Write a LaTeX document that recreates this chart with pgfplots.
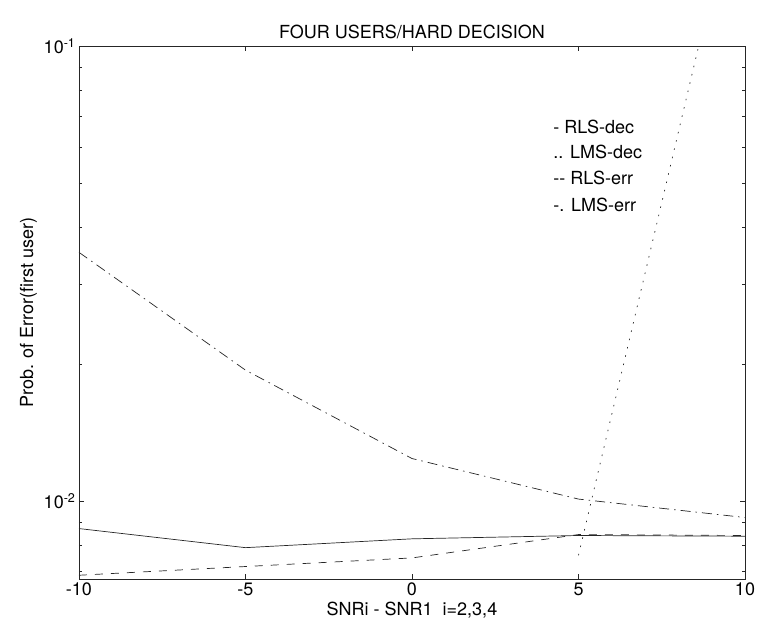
\documentclass[border=0pt]{standalone}
\usepackage{pgfplots}
\pgfplotsset{compat=1.18}
\usepackage{fontspec}
\setmainfont{TeX Gyre Heros}

% error-rate curves, one table per detector/adaptation pair
\pgfplotstableread{
x     p
-10   0.00870
-5    0.00790
0     0.00826
5     0.00840
10    0.00837
}\rlsdec
\pgfplotstableread{
x     p
5     0.00760
10    0.27000
}\lmsdec
\pgfplotstableread{
x     p
-10   0.00687
-5    0.00718
0     0.00750
5     0.00844
10    0.00840
}\rlserr
\pgfplotstableread{
x     p
-10   0.03520
-5    0.01940
0     0.01240
5     0.01010
10    0.00920
}\lmserr

\newcommand{\lblfont}{\fontsize{18}{20}\selectfont}

\begin{document}
\begin{tikzpicture}
\begin{axis}[
  scale only axis,
  width=666pt, height=533pt,
  xmin=-10, xmax=10,
  ymode=log, ymin=0.00674, ymax=0.1,
  xtick={-10,-5,0,5,10},
  xticklabels={-10,-5,0,5,10},
  ytick={0.01,0.1},
  yticklabels={10\textsuperscript{-2},10\textsuperscript{-1}},
  minor ytick={0.007,0.008,0.009,0.02,0.03,0.04,0.05,0.06,0.07,0.08,0.09},
  tick align=inside,
  major tick length=5pt, minor tick length=3pt,
  axis line style={black!85, line width=0.6pt},
  every tick/.style={black!85, line width=0.5pt},
  tick label style={font=\lblfont},
  title={FOUR USERS/HARD DECISION},
  title style={font=\lblfont, yshift=-2pt},
  xlabel={SNRi - SNR1\ \ i=2,3,4},
  ylabel={Prob. of Error(first user)},
  label style={font=\lblfont},
  every axis plot/.append style={black!85, line width=0.7pt},
]
\addplot[solid] table[x=x,y=p] {\rlsdec};
\addplot[dash pattern=on 1.5pt off 7pt] table[x=x,y=p] {\lmsdec};
\addplot[dash pattern=on 8pt off 8pt] table[x=x,y=p] {\rlserr};
\addplot[dash pattern=on 10pt off 5pt on 1.5pt off 5pt] table[x=x,y=p] {\lmserr};

% line-style key written as plain text, Matlab style
\node[anchor=west, font=\lblfont] at (rel axis cs:0.707,0.848) {- RLS-dec};
\node[anchor=west, font=\lblfont] at (rel axis cs:0.707,0.801) {.. LMS-dec};
\node[anchor=west, font=\lblfont] at (rel axis cs:0.707,0.752) {-{}- RLS-err};
\node[anchor=west, font=\lblfont] at (rel axis cs:0.707,0.702) {-. LMS-err};
\end{axis}
\pgfresetboundingbox
\path[use as bounding box]
  ([shift={(-79pt,-51pt)}]current axis.south west)
  rectangle ([shift={(15pt,46pt)}]current axis.north east);
\end{tikzpicture}
\end{document}
